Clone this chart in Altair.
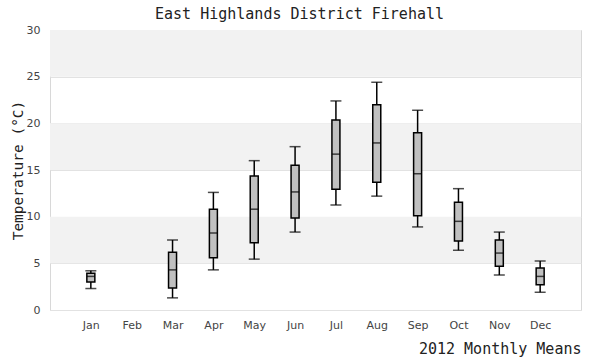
import altair as alt
import pandas as pd

months = ["Jan", "Feb", "Mar", "Apr", "May", "Jun", "Jul", "Aug", "Sep", "Oct", "Nov", "Dec"]
month_idx = [1, 3, 4, 5, 6, 7, 8, 9, 10, 11, 12]
lows =    [2.3, 1.3, 4.3, 5.45, 8.35, 11.25, 12.2, 8.9, 6.4, 3.75, 1.9]
q1s =     [3.0, 2.35, 5.6, 7.2, 9.85, 12.95, 13.7, 10.1, 7.4, 4.7, 2.7]
medians = [3.6, 4.3, 8.25, 10.8, 12.65, 16.7, 17.9, 14.6, 9.5, 6.1, 3.6]
q3s =     [3.95, 6.2, 10.8, 14.35, 15.5, 20.35, 22.0, 19.0, 11.55, 7.5, 4.5]
highs =   [4.2, 7.5, 12.6, 16.0, 17.5, 22.4, 24.4, 21.4, 13.0, 8.35, 5.25]

band_lo = [5, 15, 25]
band_hi = [10, 20, 30]

df = pd.DataFrame({"m": month_idx, "lo": lows, "q1": q1s, "med": medians, "q3": q3s, "hi": highs})
bands = pd.DataFrame({"y0": band_lo, "y1": band_hi, "x0": [0] * 3, "x1": [13] * 3})

label_expr = "[" + ",".join("'%s'" % m for m in [""] + months + [""]) + "][datum.value]"

xscale = alt.Scale(domain=[0, 13], nice=False, zero=False, padding=0)
yscale = alt.Scale(domain=[0, 30], nice=False, padding=0)

xaxis = alt.Axis(values=list(range(1, 13)), labelExpr=label_expr, grid=False, ticks=False, domain=False,
                 labelFont="DejaVu Sans", labelFontSize=11, labelColor="#444", labelPadding=9,
                 title="2012 Monthly Means", titleFont="DejaVu Sans Mono", titleFontSize=15,
                 titleFontWeight="normal", titleColor="#222", titleAnchor="end", titlePadding=11)
yaxis = alt.Axis(values=[0, 5, 10, 15, 20, 25, 30], grid=True, gridColor="#e2e2e2", ticks=False, domain=False,
                 labelFont="DejaVu Sans", labelFontSize=11, labelColor="#444", labelPadding=10,
                 title="Temperature (°C)", titleFont="DejaVu Sans Mono", titleFontSize=14.5,
                 titleFontWeight="normal", titleColor="#222", titlePadding=1)

band_layer = alt.Chart(bands).mark_rect(color="#f2f2f2").encode(
    x=alt.X("x0:Q", scale=xscale, axis=xaxis),
    x2="x1:Q",
    y=alt.Y("y0:Q", scale=yscale, axis=yaxis),
    y2="y1:Q",
)

base = alt.Chart(df)
whisk = base.mark_rule(color="black", strokeWidth=1.5).encode(
    x=alt.X("m:Q", scale=xscale), y=alt.Y("lo:Q", scale=yscale), y2="hi:Q")
cap_lo = base.mark_tick(color="black", orient="horizontal", size=11, thickness=1.5).encode(
    x=alt.X("m:Q", scale=xscale), y=alt.Y("lo:Q", scale=yscale))
cap_hi = base.mark_tick(color="black", orient="horizontal", size=11, thickness=1.5).encode(
    x=alt.X("m:Q", scale=xscale), y=alt.Y("hi:Q", scale=yscale))
box = base.mark_bar(size=8, fill="#c0c0c0", stroke="black", strokeWidth=1.5).encode(
    x=alt.X("m:Q", scale=xscale), y=alt.Y("q1:Q", scale=yscale), y2="q3:Q")
med = base.mark_tick(color="black", orient="horizontal", size=8, thickness=1.5).encode(
    x=alt.X("m:Q", scale=xscale), y=alt.Y("med:Q", scale=yscale))

chart = alt.layer(band_layer, whisk, cap_lo, cap_hi, box, med).properties(
    width=531, height=280,
    autosize=alt.AutoSizeParams(type="none"),
    padding={"left": 50, "top": 30, "right": 19, "bottom": 50},
    title=alt.TitleParams("East Highlands District Firehall", font="DejaVu Sans Mono", fontSize=15,
                          fontWeight="normal", color="#222", anchor="middle", frame="bounds", dx=4, offset=2),
    background="white",
).configure_view(stroke="#d8d8d8", strokeWidth=1)

chart.save("out.html", embed_options={"renderer": "svg", "actions": False})
